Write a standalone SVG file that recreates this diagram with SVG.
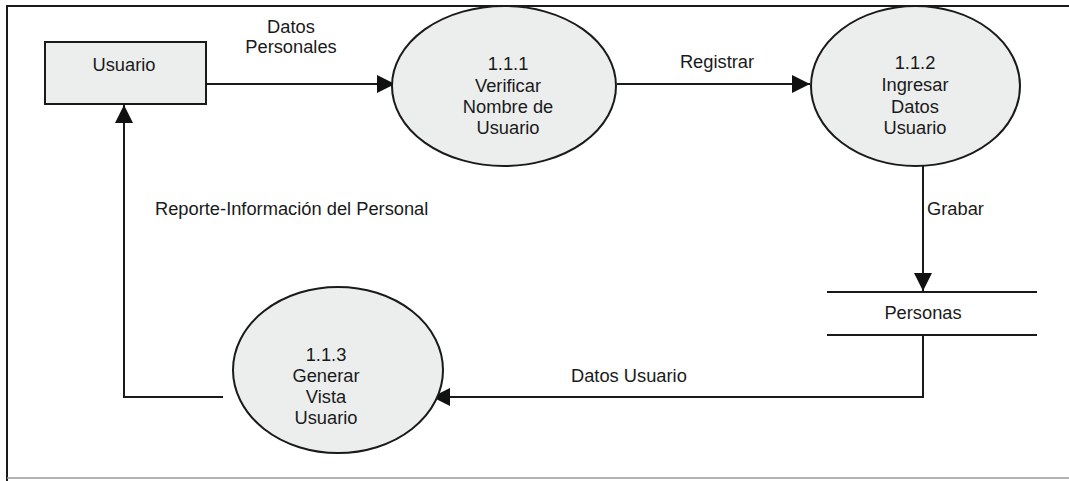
<svg xmlns="http://www.w3.org/2000/svg" width="1069" height="481" viewBox="0 0 1069 481">
  <defs>
    <marker id="arrow" viewBox="0 0 18 18" refX="18" refY="9" markerWidth="18" markerHeight="18" markerUnits="userSpaceOnUse" orient="auto">
      <path d="M0,0 L18,9 L0,18 Z" fill="#111"/>
    </marker>
    <style>
      .shape { fill: #eceeee; stroke: #1a1a1a; stroke-width: 2; }
      .flow { fill: none; stroke: #1a1a1a; stroke-width: 2; marker-end: url(#arrow); }
      .line { fill: none; stroke: #1a1a1a; stroke-width: 2; }
      text { font-family: "Liberation Sans", Arial, sans-serif; font-size: 18.3px; fill: #1a1a1a; }
      .c { text-anchor: middle; }
    </style>
  </defs>

  <rect width="1069" height="481" fill="#ffffff"/>

  <!-- page frame -->
  <g id="frame">
    <path class="line" d="M7,481 V6 H1069"/>
    <path d="M7,478 H1069" fill="none" stroke="#9a9a9a" stroke-width="1.5"/>
  </g>

  <!-- data flows -->
  <g id="connectors">
    <path class="flow" d="M206,84 H395"/>
    <path class="flow" d="M617,84 H810"/>
    <path class="flow" d="M923,166 V291"/>
    <path class="flow" d="M923,335 V397 H432"/>
    <path class="flow" d="M223,397 H124 V105"/>
    <text class="c" x="291" y="33">Datos</text>
    <text class="c" x="291" y="53">Personales</text>
    <text class="c" x="717" y="68">Registrar</text>
    <text x="927" y="215">Grabar</text>
    <text x="571" y="382">Datos Usuario</text>
    <text x="155" y="215">Reporte-Información del Personal</text>
  </g>

  <!-- external entity -->
  <g id="usuario">
    <rect class="shape" x="45" y="42" width="161" height="62"/>
    <text class="c" x="124" y="71">Usuario</text>
  </g>

  <!-- process 1.1.1 -->
  <g id="p111">
    <ellipse class="shape" cx="504" cy="86" rx="112" ry="80"/>
    <text class="c" x="508" y="70">1.1.1</text>
    <text class="c" x="508" y="92">Verificar</text>
    <text class="c" x="508" y="113">Nombre de</text>
    <text class="c" x="508" y="134">Usuario</text>
  </g>

  <!-- process 1.1.2 -->
  <g id="p112">
    <ellipse class="shape" cx="915.5" cy="86" rx="104.5" ry="80"/>
    <text class="c" x="915" y="69">1.1.2</text>
    <text class="c" x="915" y="91">Ingresar</text>
    <text class="c" x="915" y="113">Datos</text>
    <text class="c" x="915" y="134">Usuario</text>
  </g>

  <!-- data store -->
  <g id="personas">
    <path class="line" d="M827,292 H1037 M827,335 H1037"/>
    <text class="c" x="923" y="319">Personas</text>
  </g>

  <!-- process 1.1.3 -->
  <g id="p113">
    <ellipse class="shape" cx="338" cy="370" rx="105" ry="83"/>
    <text class="c" x="326" y="361">1.1.3</text>
    <text class="c" x="326" y="382">Generar</text>
    <text class="c" x="326" y="403">Vista</text>
    <text class="c" x="326" y="424">Usuario</text>
  </g>
</svg>
